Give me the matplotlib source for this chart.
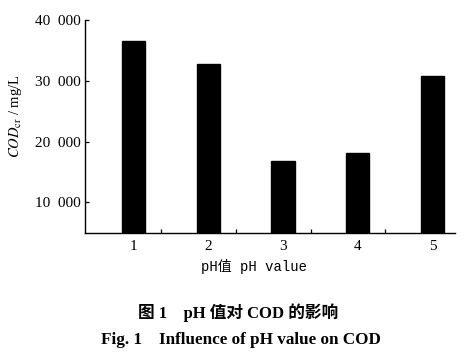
import matplotlib
matplotlib.use('Agg')
import matplotlib.pyplot as plt
from matplotlib.ticker import FuncFormatter

plt.rcParams['font.family'] = ['Liberation Serif', 'Noto Sans CJK SC']
plt.rcParams['mathtext.fontset'] = 'stix'

# data
ph_levels = [1, 2, 3, 4, 5]
cod_values = [36600, 32800, 16800, 18150, 30700]
y_ticks = [10000, 20000, 30000, 40000]

fig = plt.figure(figsize=(4.72, 3.55), dpi=100)
ax = fig.add_axes([0.180, 0.344, 0.784, 0.600])

ax.bar(ph_levels, cod_values, width=0.31, color='black', edgecolor='black')

ax.set_xlim(0.353, 5.3)
ax.set_ylim(5000, 40000)
ax.set_yticks(y_ticks)
ax.yaxis.set_major_formatter(FuncFormatter(lambda v, p: f'{int(v):,}'.replace(',', '\u2002')))
ax.set_xticks(ph_levels)
ax.set_xticks([x + 0.37 for x in ph_levels[:-1]], minor=True)

ax.tick_params(axis='y', direction='in', length=3, width=0.9, labelsize=11, pad=3)
ax.tick_params(axis='x', which='major', length=0, labelsize=11, pad=5)
ax.tick_params(axis='x', which='minor', direction='in', length=3, width=0.9)

for s in ['top', 'right']:
    ax.spines[s].set_visible(False)
for s in ['left', 'bottom']:
    ax.spines[s].set_linewidth(1.0)

# y label placed in figure pixels so it sits where the reference has it
fig.text(15 / 472, 1 - 116 / 355, r'$\mathit{COD}_{\mathrm{cr}}$ / mg/L', fontsize=10.5,
         rotation=90, ha='center', va='center')

fig.text(254 / 472, 1 - 266 / 355, 'pH值 pH value', fontsize=10,
         family=['Liberation Mono', 'Noto Sans CJK SC'], ha='center', va='center')

fig.text(238 / 472, 1 - 313 / 355, '图 1    pH 值对 COD 的影响', fontsize=12, weight='bold',
         ha='center', va='center')
fig.text(241 / 472, 1 - 340 / 355, 'Fig. 1    Influence of pH value on COD', fontsize=12.3,
         weight='bold', ha='center', va='center')

fig.savefig('out.png', dpi=100, facecolor='white')
